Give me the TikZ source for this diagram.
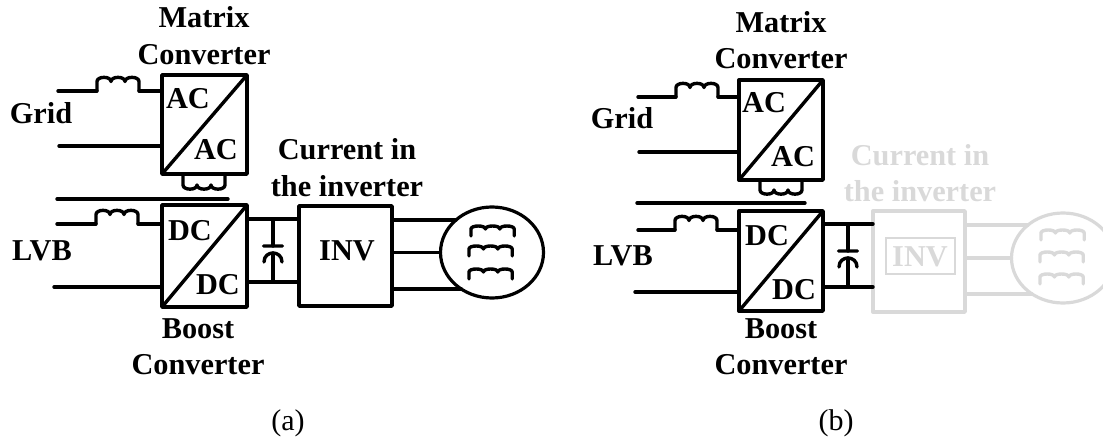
\documentclass[tikz,border=0pt]{standalone}
\usepackage{fontspec}
\setmainfont{Liberation Serif}
\usetikzlibrary{positioning,shapes.geometric}
\colorlet{fadedgray}{black!15}
\tikzset{x=1pt,y=-1pt}
\tikzstyle{wire}=[line width=3.4pt,line cap=round,line join=round]
\tikzstyle{conv}=[draw,line width=3.4pt,rectangle,outer sep=0,inner sep=0,line join=round]
\tikzstyle{motor}=[draw,ellipse,line width=3.2pt,minimum width=103,inner sep=0,outer sep=0]
\tikzstyle{lbl}=[font=\fontsize{30.3}{37}\selectfont\bfseries,align=center,inner sep=0,anchor=base]
\tikzstyle{captxt}=[font=\fontsize{30}{36}\selectfont,inner sep=0,anchor=base]
\tikzset{
  coil/.pic={\draw[pic actions] (0,0) -- (0,-9.5) .. controls +(0,-5.5) and +(0,-5.5) .. ++(14,0) .. controls +(0,-5.5) and +(0,-5.5) .. ++(14,0) .. controls +(0,-5.5) and +(0,-5.5) .. ++(14,0) -- (42,0);},
  seccoil/.pic={\draw[pic actions] (0,0) -- (0,10) .. controls +(0,5.5) and +(0,5.5) .. ++(14,0) .. controls +(0,5.5) and +(0,5.5) .. ++(14,0) .. controls +(0,5.5) and +(0,5.5) .. ++(14,0) -- (42,0);},
  mcoil/.pic={\draw[pic actions] (0,0) -- (0,-7) .. controls +(0,-4) and +(0,-4) .. ++(14.4,0) .. controls +(0,-4) and +(0,-4) .. ++(14.4,0) .. controls +(0,-4) and +(0,-4) .. ++(14.4,0) -- (43.2,0);},
  capac/.pic={\draw[pic actions] (-9.5,0) -- (9.5,0) (-9,16) .. controls +(0,-12) and +(0,-12) .. (9,16);}
}
\begin{document}
\begin{tikzpicture}
\useasboundingbox (0,0) rectangle (1103,441);
% left circuit
\node[conv,minimum width=85,minimum height=99] (mc1) at (204.5,124.5) {};
\node[conv,minimum width=85,minimum height=102] (bc1) at (204.5,256) {};
\node[conv,minimum width=93,minimum height=100] (inv1) at (345.5,256) {};
\node[motor,minimum height=91] (mot1) at (492,252.5) {};
\draw[wire] (mc1.south west) -- (mc1.north east);
\draw[wire] (bc1.south west) -- (bc1.north east);
\node[lbl] (mname1) at (204,28) {Matrix};
\node[lbl] (cname1) at (204,65) {Converter};
\node[lbl] (grid1) at (41,124) {Grid};
\node[lbl] (lvb1) at (42,260) {LVB};
\node[lbl] (ac1a) at (188,109) {AC};
\node[lbl] (ac1b) at (216,160) {AC};
\node[lbl] (dc1a) at (190,240) {DC};
\node[lbl] (dc1b) at (218,294) {DC};
\node[lbl] (bname1) at (198,338) {Boost};
\node[lbl] (cname1b) at (198,374) {Converter};
\node[lbl] (cur1) at (347,160) {Current in};
\node[lbl] (cur1b) at (347,196) {the inverter};
\node[lbl] (invt1) at (347,260) {INV};
\node[captxt] (a) at (288,430) {(a)};
\coordinate (g1a) at (58,91);
\coordinate (g1b) at (59,146);
\coordinate (l1a) at (57,224);
\coordinate (l1b) at (54,287);
\draw[wire] (g1a) -- (97,91) (139,91) -- (mc1.west |- g1a);
\draw[wire] (g1b) -- (mc1.west |- g1b);
\draw[wire] (l1a) -- (96,224) (138,224) -- (bc1.west |- l1a);
\draw[wire] (l1b) -- (bc1.west |- l1b);
\pic[wire] at (97,91) {coil};
\pic[wire] at (96,224) {coil};
\pic[wire] at (183,175) {seccoil};
\draw[wire] (57,199) -- (228,199);
\draw[wire] (bc1.east |- 0,219) -- (inv1.west |- 0,219);
\draw[wire] (bc1.east |- 0,282) -- (inv1.west |- 0,282);
\draw[wire] (273,219) -- (273,246) (273,253) -- (273,282);
\pic[wire] at (273,246) {capac};
\draw[wire] (inv1.east |- mot1.138) -- (mot1.138);
\draw[wire] (inv1.east |- mot1.west) -- (mot1.west);
\draw[wire] (inv1.east |- mot1.230) -- (mot1.230);
\pic[wire] at (471,236) {mcoil};
\pic[wire] at (469,256) {mcoil};
\pic[wire] at (469,279) {mcoil};
% right circuit
\node[conv,minimum width=84,minimum height=100] (mc2) at (781,130) {};
\node[conv,minimum width=84,minimum height=100] (bc2) at (781,261) {};
\draw[wire] (mc2.south west) -- (mc2.north east);
\draw[wire] (bc2.south west) -- (bc2.north east);
\node[lbl] (mname2) at (781,33) {Matrix};
\node[lbl] (cname2) at (781,69) {Converter};
\node[lbl] (grid2) at (622,129) {Grid};
\node[lbl] (lvb2) at (623,265) {LVB};
\node[lbl] (ac2a) at (764,113) {AC};
\node[lbl] (ac2b) at (793,166) {AC};
\node[lbl] (dc2a) at (767,245) {DC};
\node[lbl] (dc2b) at (794,299) {DC};
\node[lbl] (bname2) at (781,338) {Boost};
\node[lbl] (cname2b) at (781,374) {Converter};
\node[captxt] (b) at (836,430) {(b)};
\coordinate (g2a) at (638,97);
\coordinate (g2b) at (639,152);
\coordinate (l2a) at (638,230);
\coordinate (l2b) at (635,292);
\draw[wire] (g2a) -- (676,97) (718,97) -- (mc2.west |- g2a);
\draw[wire] (g2b) -- (mc2.west |- g2b);
\draw[wire] (l2a) -- (675,230) (717,230) -- (bc2.west |- l2a);
\draw[wire] (l2b) -- (bc2.west |- l2b);
\pic[wire] at (676,97) {coil};
\pic[wire] at (675,230) {coil};
\pic[wire] at (760,180) {seccoil};
\draw[wire] (637,203) -- (805,203);
% faded part
\begin{scope}[fadedgray]
\node[conv,minimum width=92,minimum height=101] (inv2) at (919,261.5) {};
\node[draw,line width=1.2pt,minimum width=69,minimum height=36,inner sep=0,outer sep=0] (invbox2) at (920.5,256) {};
\node[motor,minimum height=90] (mot2) at (1063,258) {};
\node[lbl] (cur2) at (920,165) {Current in};
\node[lbl] (cur2b) at (920,201) {the inverter};
\node[lbl] (invt2) at (920,266) {INV};
\draw[wire] (inv2.east |- mot2.137) -- (mot2.137);
\draw[wire] (inv2.east |- mot2.west) -- (mot2.west);
\draw[wire] (inv2.east |- mot2.229) -- (mot2.229);
\pic[wire] at (1041,240) {mcoil};
\pic[wire] at (1040,262) {mcoil};
\pic[wire] at (1040,284) {mcoil};
\end{scope}
\draw[wire] (bc2.east |- 0,224) -- (inv2.west |- 0,224);
\draw[wire] (bc2.east |- 0,287) -- (inv2.west |- 0,287);
\draw[wire] (848,224) -- (848,251) (848,258) -- (848,287);
\pic[wire] at (848,251) {capac};
\end{tikzpicture}
\end{document}
